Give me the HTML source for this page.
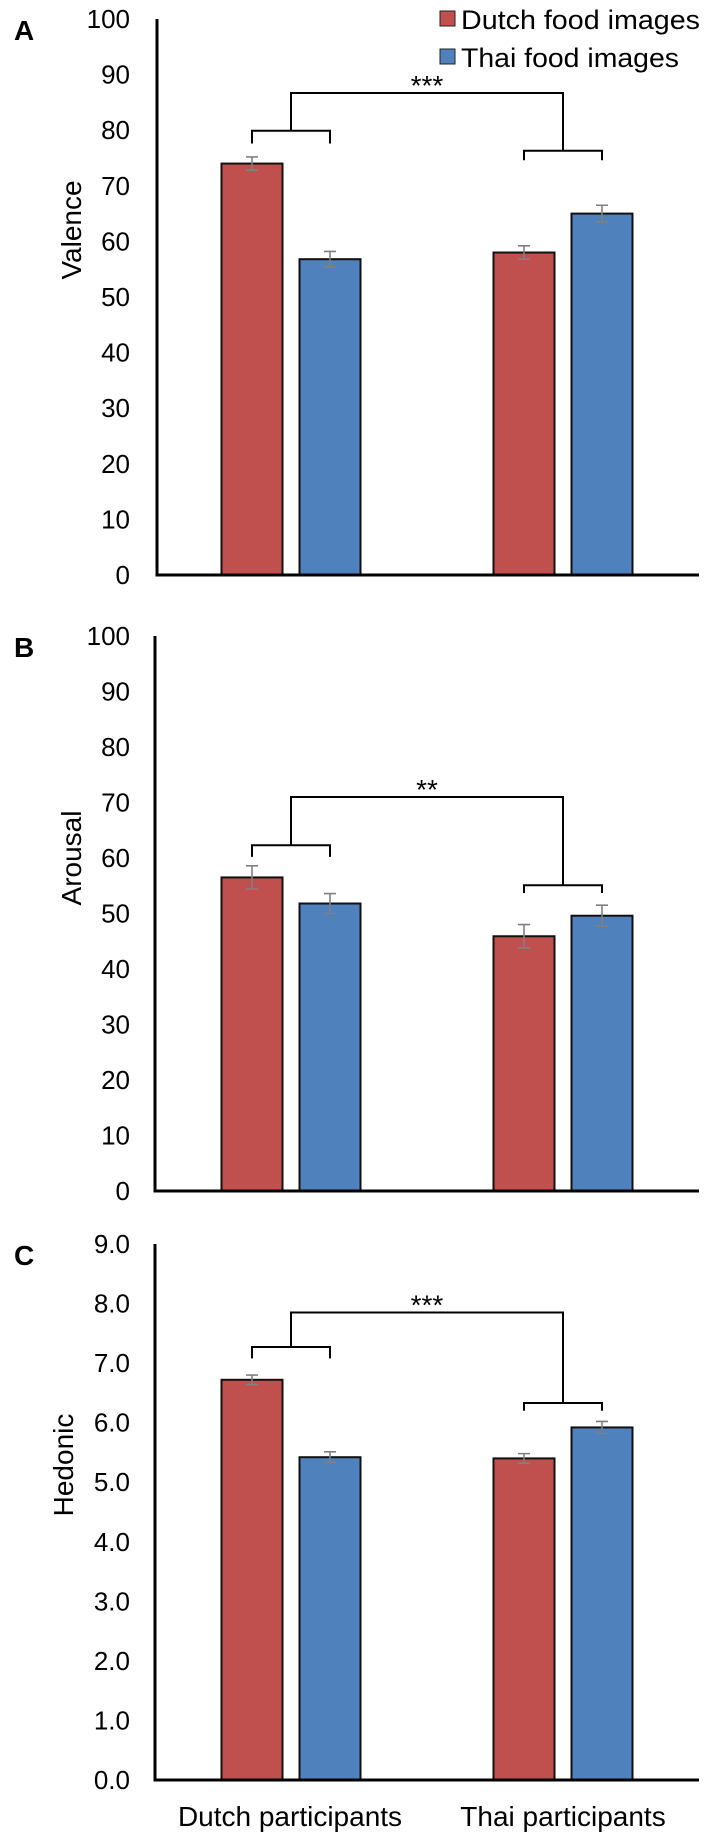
<!DOCTYPE html>
<html><head><meta charset="utf-8">
<style>
html,body{margin:0;padding:0;background:#fff;}
svg{display:block;font-family:"Liberation Sans",Arial,sans-serif;}
</style></head>
<body>
<svg id="chart" width="709" height="1835" viewBox="0 0 709 1835" xmlns="http://www.w3.org/2000/svg">
  <g>
    <rect x="440" y="11" width="15" height="15" fill="#C0504D" stroke="#222" stroke-width="1"/>
    <text x="461" y="29" font-size="27" textLength="239" lengthAdjust="spacingAndGlyphs">Dutch food images</text>
    <rect x="440" y="49" width="15" height="15" fill="#4F81BD" stroke="#222" stroke-width="1"/>
    <text x="461" y="67" font-size="27" textLength="218" lengthAdjust="spacingAndGlyphs">Thai food images</text>
  </g>
  <text x="290" y="1826" font-size="28" text-anchor="middle">Dutch participants</text>
  <text x="563" y="1826" font-size="28" text-anchor="middle">Thai participants</text>
</svg>
<script>
// ---- data ----
const categories = ["Dutch participants", "Thai participants"];
const seriesNames = ["Dutch food images", "Thai food images"];
// Panel A: Valence
const valenceDutchFood = [74.0, 58.0];
const valenceThaiFood = [56.8, 65.0];
const valenceDutchErr = [1.2, 1.2];
const valenceThaiErr = [1.4, 1.5];
const valenceTicks = ["0","10","20","30","40","50","60","70","80","90","100"];
const valenceBrackets = [79.9, 77.6, 76.3, 74.6, 86.7];
// Panel B: Arousal
const arousalDutchFood = [56.5, 45.9];
const arousalThaiFood = [51.8, 49.6];
const arousalDutchErr = [2.1, 2.1];
const arousalThaiErr = [1.8, 1.9];
const arousalTicks = ["0","10","20","30","40","50","60","70","80","90","100"];
const arousalBrackets = [62.3, 60.2, 55.1, 53.7, 71.0];
// Panel C: Hedonic
const hedonicDutchFood = [6.72, 5.40];
const hedonicThaiFood = [5.42, 5.92];
const hedonicDutchErr = [0.08, 0.08];
const hedonicThaiErr = [0.09, 0.10];
const hedonicTicks = ["0.0","1.0","2.0","3.0","4.0","5.0","6.0","7.0","8.0","9.0"];
const hedonicBrackets = [7.27, 7.08, 6.33, 6.20, 7.85];

const NS = "http://www.w3.org/2000/svg";
const svg = document.getElementById("chart");
function mk(tag, attrs, parent){
  const e = document.createElementNS(NS, tag);
  for (const k in attrs) e.setAttribute(k, attrs[k]);
  (parent || svg).appendChild(e);
  return e;
}

const BAR_W = 61;
const groupCenters = [291, 563];
const offsets = [-39, 39];

function panel(cfg){
  const g = mk("g", {});
  
  
  const maxV = cfg.maxV;
  const y = v => cfg.base - (v / maxV) * (cfg.base - cfg.top);
  const xBar = (ci, si) => groupCenters[ci] + offsets[si];

  const L = mk("text", {x: 14, y: cfg.top + 21, "font-size": 28, "font-weight": "bold"}, g);
  
  
  L.textContent = cfg.letter;

  const T = mk("text", {x: 0, y: 0, "font-size": 28, "text-anchor": "middle",
    transform: `translate(${cfg.titleX},${cfg.titleY}) rotate(-90)`}, g);
  
  
  T.textContent = cfg.title;

  const n = cfg.ticks.length;
  cfg.ticks.forEach((t, i) => {
    const v = maxV * i / (n - 1);
    const tx = mk("text", {x: 130, y: y(v) + 9, "font-size": 26, "text-anchor": "end"}, g);
    
    
    tx.textContent = t;
  });

  const series = [cfg.d1, cfg.d2];
  const errs = [cfg.e1, cfg.e2];
  const colors = ["#C0504D", "#4F81BD"];
  series.forEach((arr, si) => {
    arr.forEach((v, ci) => {
      const cx = xBar(ci, si);
      const r = mk("rect", {x: cx - BAR_W/2, y: y(v), width: BAR_W, height: cfg.base - y(v),
        fill: colors[si], stroke: "#111", "stroke-width": 2}, g);
      
      
      const e = errs[si][ci];
      const eg = mk("path", {d: `M${cx},${y(v+e)}V${y(v-e)}M${cx-6},${y(v+e)}H${cx+6}M${cx-6},${y(v-e)}H${cx+6}`,
        stroke: "#808080", "stroke-width": 1.6, fill: "none"}, g);
      
      
    });
  });

  const ax = mk("path", {d: `M${cfg.axisX},${cfg.top}V${cfg.base}H699`, stroke: "#000", "stroke-width": 3, fill: "none"}, g);
  
  

  const b = cfg.br;
  const dL = xBar(0,0), dR = xBar(0,1), tL = xBar(1,0), tR = xBar(1,1);
  const dM = (dL + dR) / 2, tM = (tL + tR) / 2;
  const bs = mk("path", {d:
    `M${dL},${y(b[1])}V${y(b[0])}H${dR}V${y(b[1])}` +
    `M${tL},${y(b[3])}V${y(b[2])}H${tR}V${y(b[3])}` +
    `M${dM},${y(b[0])}V${y(b[4])}H${tM}V${y(b[2])}`,
    stroke: "#000", "stroke-width": 2, fill: "none"}, g);
  
  
  const st = mk("text", {x: (dM + tM) / 2, y: y(b[4]) + 2, "font-size": 28, "text-anchor": "middle"}, g);
  
  
  st.textContent = cfg.stars;
}

panel({name: "valence", letter: "A", title: "Valence", top: 19, base: 575, axisX: 157, maxV: 100,
  titleX: 81, titleY: 230, ticks: valenceTicks, d1: valenceDutchFood, d2: valenceThaiFood,
  e1: valenceDutchErr, e2: valenceThaiErr, br: valenceBrackets, stars: "***"});
panel({name: "arousal", letter: "B", title: "Arousal", top: 636, base: 1191, axisX: 155, maxV: 100,
  titleX: 81, titleY: 858, ticks: arousalTicks, d1: arousalDutchFood, d2: arousalThaiFood,
  e1: arousalDutchErr, e2: arousalThaiErr, br: arousalBrackets, stars: "**"});
panel({name: "hedonic", letter: "C", title: "Hedonic", top: 1244, base: 1780, axisX: 155, maxV: 9,
  titleX: 73, titleY: 1465, ticks: hedonicTicks, d1: hedonicDutchFood, d2: hedonicThaiFood,
  e1: hedonicDutchErr, e2: hedonicThaiErr, br: hedonicBrackets, stars: "***"});
</script>
</body></html>
